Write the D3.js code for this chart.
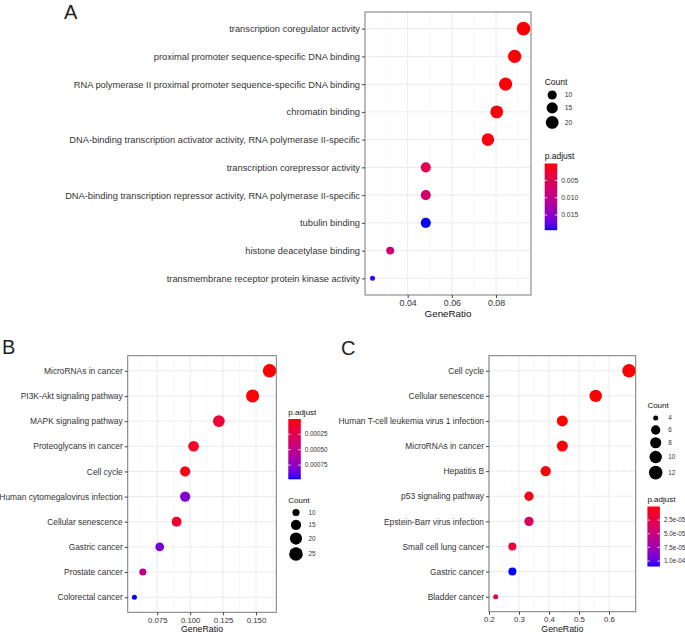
<!DOCTYPE html>
<html><head><meta charset="utf-8">
<script src="https://cdn.jsdelivr.net/npm/d3@7"></script>
<style>html,body{margin:0;padding:0;background:#fff;}svg{display:block;font-family:"Liberation Sans",Arial,sans-serif;}</style>
</head><body>
<svg id="chart" width="685" height="633"></svg>
<script>
// ---------- Panel A (GO) ----------
const goTerms = ["transcription coregulator activity","proximal promoter sequence-specific DNA binding","RNA polymerase II proximal promoter sequence-specific DNA binding","chromatin binding","DNA-binding transcription activator activity, RNA polymerase II-specific","transcription corepressor activity","DNA-binding transcription repressor activity, RNA polymerase II-specific","tubulin binding","histone deacetylase binding","transmembrane receptor protein kinase activity"];
const goRatio = [0.0924,0.0884,0.0843,0.0803,0.0763,0.0482,0.0482,0.0482,0.0321,0.0241];
const goCount = [23,22,21,20,19,12,12,12,8,6];
const goPadj = [0.0001,0.0002,0.0003,0.0004,0.0006,0.0049,0.0074,0.0194,0.0081,0.0188];
const goXTicks = [0.04,0.06,0.08];
const goXMinor = [0.03,0.05,0.07,0.09];
const goSizeBreaks = [10,15,20];
const goColorBreaks = [0.005,0.010,0.015];
const goColorLabels = ["0.005","0.010","0.015"];

// ---------- Panel B (KEGG) ----------
const bTerms = ["MicroRNAs in cancer","PI3K-Akt signaling pathway","MAPK signaling pathway","Proteoglycans in cancer","Cell cycle","Human cytomegalovirus infection","Cellular senescence","Gastric cancer","Prostate cancer","Colorectal cancer"];
const bRatio = [0.1603,0.1474,0.1218,0.1026,0.0962,0.0962,0.0897,0.0769,0.0641,0.0577];
const bCount = [25,23,19,16,15,15,14,12,10,9];
const bPadj = [0.000002,0.00001,0.00015,0.0001,0.00005,0.00079,0.00012,0.00082,0.00051,0.00098];
const bXTicks = [0.075,0.100,0.125,0.150];
const bXMinor = [0.0625,0.0875,0.1125,0.1375,0.1625];
const bSizeBreaks = [10,15,20,25];
const bColorBreaks = [0.00025,0.00050,0.00075];
const bColorLabels = ["0.00025","0.00050","0.00075"];

// ---------- Panel C (KEGG) ----------
const cTerms = ["Cell cycle","Cellular senescence","Human T-cell leukemia virus 1 infection","MicroRNAs in cancer","Hepatitis B","p53 signaling pathway","Epstein-Barr virus infection","Small cell lung cancer","Gastric cancer","Bladder cancer"];
const cRatio = [0.6667,0.5556,0.4444,0.4444,0.3889,0.3333,0.3333,0.2778,0.2778,0.2222];
const cCount = [12,10,8,8,7,6,6,5,5,4];
const cPadj = [1e-7,2e-7,5e-7,8e-7,1.5e-6,5e-6,3.3e-5,1.7e-5,1.1e-4,2.2e-5];
const cXTicks = [0.2,0.3,0.4,0.5,0.6];
const cXMinor = [0.25,0.35,0.45,0.55,0.65];
const cSizeBreaks = [4,6,8,10,12];
const cColorBreaks = [2.5e-5,5.0e-5,7.5e-5,1.0e-4];
const cColorLabels = ["2.5e-05","5.0e-05","7.5e-05","1.0e-04"];

const svg = d3.select("#chart");
const R_MIN = 2.5, R_MAX = 6.8;

function sizeScale(counts){
  const t = d3.scaleLinear().domain(d3.extent(counts)).range([0,1]).clamp(true);
  return c => R_MIN + (R_MAX - R_MIN) * Math.sqrt(t(c));
}
function colorScale(padj){
  return d3.scaleLinear().domain(d3.extent(padj)).range(["red","blue"]).interpolate(d3.interpolateLab);
}

let gradId = 0;
function drawPanel(o){
  const g = svg.append("g");
  const x = d3.scaleLinear().domain(o.xdom).range([o.left, o.right]);
  const y = d3.scalePoint().domain(o.terms).range([o.top, o.bottom]).padding(0.6);
  const r = sizeScale(o.count);
  const col = colorScale(o.padj);

  // grid
  g.selectAll(".minor").data(o.xMinor).join("line")
    .attr("x1", d => x(d)).attr("x2", d => x(d)).attr("y1", o.top).attr("y2", o.bottom)
    .attr("stroke", "#f3f3f3").attr("stroke-width", 0.6);
  g.selectAll(".majx").data(o.xTicks).join("line")
    .attr("x1", d => x(d)).attr("x2", d => x(d)).attr("y1", o.top).attr("y2", o.bottom)
    .attr("stroke", "#ebebeb").attr("stroke-width", 1);
  g.selectAll(".majy").data(o.terms).join("line")
    .attr("x1", o.left).attr("x2", o.right).attr("y1", d => y(d)).attr("y2", d => y(d))
    .attr("stroke", "#ebebeb").attr("stroke-width", 1);

  // points
  const idx = d3.range(o.terms.length);
  g.selectAll(".pt").data(idx).join("circle")
    .attr("cx", i => x(o.ratio[i])).attr("cy", i => y(o.terms[i]))
    .attr("r", i => r(o.count[i])).attr("fill", i => col(o.padj[i]));

  // border
  g.append("rect").attr("x", o.left).attr("y", o.top)
    .attr("width", o.right - o.left).attr("height", o.bottom - o.top)
    .attr("fill", "none").attr("stroke", "#7a7a7a").attr("stroke-width", 1);

  // y axis
  const ya = d3.axisLeft(y).tickSize(3).tickPadding(2);
  const yg = g.append("g").attr("transform", `translate(${o.left},0)`).call(ya);
  yg.select(".domain").remove();
  yg.selectAll(".tick line").attr("stroke", "#444");
  yg.selectAll(".tick text").attr("fill", "#333").attr("font-size", o.yFont).attr("font-family", "Liberation Sans, Arial, sans-serif");

  // x axis
  const xa = d3.axisBottom(x).tickValues(o.xTicks).tickFormat(o.xFmt).tickSize(3).tickPadding(2);
  const xg = g.append("g").attr("transform", `translate(0,${o.bottom})`).call(xa);
  xg.select(".domain").remove();
  xg.selectAll(".tick line").attr("stroke", "#444");
  xg.selectAll(".tick text").attr("fill", "#333").attr("font-size", o.xFont).attr("font-family", "Liberation Sans, Arial, sans-serif");
  g.append("text").attr("x", (o.left + o.right) / 2).attr("y", o.titleY)
    .attr("text-anchor", "middle").attr("font-size", o.titleFont).attr("fill", "#111").text("GeneRatio");

  // panel letter
  g.append("text").attr("x", o.letterX).attr("y", o.letterY).attr("font-size", 20)
    .attr("fill", "#231f20").text(o.letter);

  // size legend
  function sizeLegend(lx, ty){
    g.append("text").attr("x", lx).attr("y", ty).attr("font-size", o.legTitleFont).attr("fill", "#111").text("Count");
    let cy = ty + 4;
    o.sizeBreaks.forEach((b, i) => {
      const rr = r(b);
      const h = Math.max(12, 2 * rr + 2.5);
      cy += h / 2;
      g.append("circle").attr("cx", lx + o.keyDx).attr("cy", cy).attr("r", rr).attr("fill", "#000");
      g.append("text").attr("x", lx + o.keyDx + 12.5).attr("y", cy).attr("dy", "0.35em")
        .attr("font-size", o.legFont).attr("fill", "#333").text(b);
      cy += h / 2;
    });
  }
  // color legend
  function colorLegend(lx, ty){
    g.append("text").attr("x", lx).attr("y", ty).attr("font-size", o.legTitleFont).attr("fill", "#111").text("p.adjust");
    const bt = ty + 4.5, bh = o.barH, bw = 12.5;
    const id = "grad" + (gradId++);
    const dom = d3.extent(o.padj);
    const grad = svg.append("defs").append("linearGradient").attr("id", id)
      .attr("x1", 0).attr("x2", 0).attr("y1", 0).attr("y2", 1);
    d3.range(0, 1.0001, 0.05).forEach(t => {
      grad.append("stop").attr("offset", t).attr("stop-color", col(dom[0] + t * (dom[1] - dom[0])));
    });
    g.append("rect").attr("x", lx).attr("y", bt).attr("width", bw).attr("height", bh).attr("fill", `url(#${id})`);
    const cy = d3.scaleLinear().domain(dom).range([bt, bt + bh]);
    o.colorBreaks.forEach((b, i) => {
      const yy = cy(b);
      g.append("line").attr("x1", lx).attr("x2", lx + 2.5).attr("y1", yy).attr("y2", yy).attr("stroke", "#fff").attr("stroke-width", 0.8);
      g.append("line").attr("x1", lx + bw - 2.5).attr("x2", lx + bw).attr("y1", yy).attr("y2", yy).attr("stroke", "#fff").attr("stroke-width", 0.8);
      g.append("text").attr("x", lx + bw + 4).attr("y", yy).attr("dy", "0.35em")
        .attr("font-size", o.legFont).attr("fill", "#333").text(o.colorLabels[i]);
    });
  }
  o.legends.forEach(L => L.type === "size" ? sizeLegend(L.x, L.y) : colorLegend(L.x, L.y));
}

drawPanel({
  terms: goTerms, ratio: goRatio, count: goCount, padj: goPadj,
  xdom: [0.0207, 0.0958], xTicks: goXTicks, xMinor: goXMinor, xFmt: d3.format(".2f"),
  left: 365, right: 531, top: 12, bottom: 295,
  yFont: 9.3, xFont: 8.8, titleFont: 9.8, titleY: 317,
  letter: "A", letterX: 64, letterY: 19,
  sizeBreaks: goSizeBreaks, colorBreaks: goColorBreaks, colorLabels: goColorLabels,
  legTitleFont: 8.5, legFont: 6.8, keyDx: 7.5, barH: 66.7,
  legends: [{type: "size", x: 544.7, y: 85}, {type: "color", x: 544.7, y: 159}]
});
drawPanel({
  terms: bTerms, ratio: bRatio, count: bCount, padj: bPadj,
  xdom: [0.0526, 0.1654], xTicks: bXTicks, xMinor: bXMinor, xFmt: d3.format(".3f"),
  left: 127.7, right: 276.3, top: 355.7, bottom: 612.3,
  yFont: 8.4, xFont: 7.8, titleFont: 8.8, titleY: 632,
  letter: "B", letterX: 2, letterY: 354,
  sizeBreaks: bSizeBreaks, colorBreaks: bColorBreaks, colorLabels: bColorLabels,
  legTitleFont: 8, legFont: 6.3, keyDx: 7.7, barH: 60.3,
  legends: [{type: "color", x: 288.3, y: 414.5}, {type: "size", x: 288.3, y: 502.5}]
});
drawPanel({
  terms: cTerms, ratio: cRatio, count: cCount, padj: cPadj,
  xdom: [0.2, 0.6889], xTicks: cXTicks, xMinor: cXMinor, xFmt: d3.format(".1f"),
  left: 489, right: 635.7, top: 355.7, bottom: 611.7,
  yFont: 8.4, xFont: 7.8, titleFont: 8.8, titleY: 632,
  letter: "C", letterX: 341, letterY: 355,
  sizeBreaks: cSizeBreaks, colorBreaks: cColorBreaks, colorLabels: cColorLabels,
  legTitleFont: 8, legFont: 6.3, keyDx: 8.3, barH: 60,
  legends: [{type: "size", x: 647.4, y: 408}, {type: "color", x: 647.4, y: 502}]
});
</script>
</body></html>
